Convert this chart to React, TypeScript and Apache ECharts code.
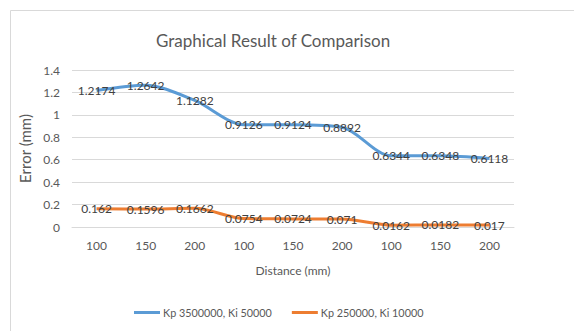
import React, { useEffect, useRef } from "react";
import * as echarts from "echarts";

const categories = ["100", "150", "200", "100", "150", "200", "100", "150", "200"];
const seriesANames = "Kp 3500000, Ki 50000";
const seriesBNames = "Kp 250000, Ki 10000";
const seriesA = [1.2174, 1.2642, 1.1282, 0.9126, 0.9124, 0.8892, 0.6344, 0.6348, 0.6118];
const seriesB = [0.162, 0.1596, 0.1662, 0.0754, 0.0724, 0.071, 0.0162, 0.0182, 0.017];

const FONT = "Lato, 'Open Sans', sans-serif";

export default function App() {
  const ref = useRef<HTMLDivElement>(null);
  useEffect(() => {
    if (!ref.current) return;
    const chart = echarts.init(ref.current, undefined, { renderer: "svg" });
    const labelStyle = {
      show: true,
      position: "inside" as const,
      fontSize: 12,
      color: "#404040",
      fontFamily: FONT,
    };
    chart.setOption({
      animation: false,
      backgroundColor: "#ffffff",
      textStyle: { fontFamily: FONT },
      graphic: [
        {
          type: "rect",
          shape: { x: 10.5, y: 10.5, width: 700, height: 500 },
          style: { fill: "none", stroke: "#d9d9d9", lineWidth: 1 },
          silent: true,
        },
      ],
      title: {
        text: "Graphical Result of Comparison",
        left: 151,
        top: 27,
        textStyle: { fontSize: 17, fontWeight: "normal", color: "#595959", fontFamily: FONT },
      },
      legend: {
        bottom: 8,
        left: 129,
        itemWidth: 26,
        itemHeight: 3,
        itemGap: 20,
        icon: "rect",
        textStyle: { fontSize: 10.8, color: "#595959", fontFamily: FONT, padding: [0, 0, 0, -2] },
        data: [seriesANames, seriesBNames],
      },
      grid: { left: 72, right: 60, top: 70, bottom: 104, containLabel: false },
      xAxis: {
        type: "category",
        data: categories,
        boundaryGap: true,
        name: "Distance (mm)",
        nameLocation: "middle",
        nameGap: 37,
        nameTextStyle: { fontSize: 12, color: "#595959", fontFamily: FONT },
        axisLine: { show: true, lineStyle: { color: "#d9d9d9" } },
        axisTick: { show: false },
        axisLabel: { fontSize: 12, color: "#595959", margin: 12, interval: 0, fontFamily: FONT },
      },
      yAxis: {
        type: "value",
        min: 0,
        max: 1.4,
        interval: 0.2,
        name: "Error (mm)",
        nameLocation: "middle",
        nameGap: 26,
        nameRotate: 90,
        nameTextStyle: { fontSize: 15, color: "#595959", fontFamily: FONT },
        axisLine: { show: false },
        axisTick: { show: false },
        axisLabel: { fontSize: 12, color: "#595959", margin: 12, fontFamily: FONT },
        splitLine: { lineStyle: { color: "#d9d9d9" } },
      },
      series: [
        {
          name: seriesANames,
          type: "line",
          data: seriesA,
          smooth: 0.3,
          symbol: "circle",
          symbolSize: 0.1,
          showSymbol: true,
          lineStyle: { color: "#5B9BD5", width: 3 },
          itemStyle: { color: "#5B9BD5" },
          label: labelStyle,
        },
        {
          name: seriesBNames,
          type: "line",
          data: seriesB,
          smooth: 0.3,
          symbol: "circle",
          symbolSize: 0.1,
          showSymbol: true,
          lineStyle: { color: "#ED7D31", width: 3 },
          itemStyle: { color: "#ED7D31" },
          label: labelStyle,
        },
      ],
    });
    return () => chart.dispose();
  }, []);
  return (
    <div
      ref={ref}
      style={{ position: "fixed", left: 0, top: 0, width: 574, height: 331 }}
    />
  );
}
